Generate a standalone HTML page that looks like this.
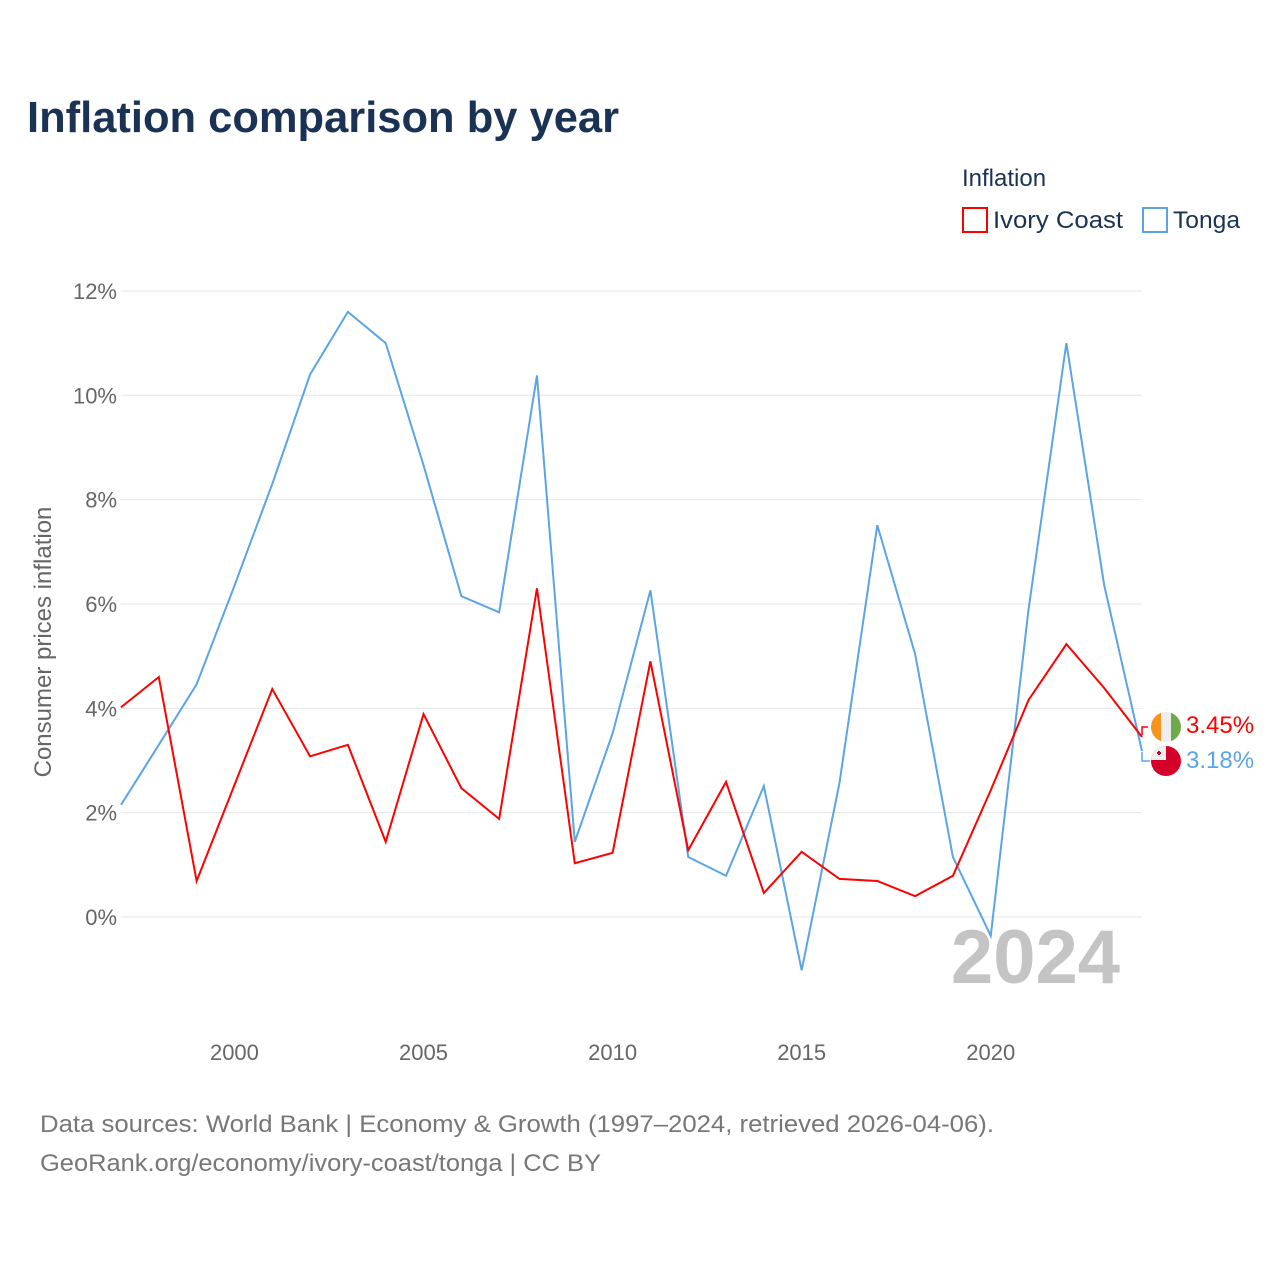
<!DOCTYPE html>
<html><head><meta charset="utf-8"><style>
body{margin:0;width:1280px;height:1280px;background:#fff;overflow:hidden;font-family:"Liberation Sans",sans-serif}
</style></head><body>
<svg width="1280" height="1280" xmlns="http://www.w3.org/2000/svg">
<text x="27" y="132" font-size="44" font-weight="bold" fill="#1a3355" textLength="592" lengthAdjust="spacingAndGlyphs">Inflation comparison by year</text>
<text x="962" y="186" font-size="24" fill="#1a3355">Inflation</text>
<g><rect x="963" y="208" width="24" height="24" fill="none" stroke="#ff0000" stroke-width="2"/><text x="993" y="228" font-size="24" fill="#1a3355" textLength="130" lengthAdjust="spacingAndGlyphs">Ivory Coast</text></g>
<g><rect x="1143" y="208" width="24" height="24" fill="none" stroke="#5ba4e6" stroke-width="2"/><text x="1173" y="228" font-size="24" fill="#1a3355" textLength="67" lengthAdjust="spacingAndGlyphs">Tonga</text></g>
<g id="grid"></g>
<g id="yt"></g>
<g id="xt"></g>
<text transform="translate(51,642) rotate(-90)" text-anchor="middle" font-size="24" fill="#666">Consumer prices inflation</text>
<text x="1120" y="983" text-anchor="end" font-size="76" font-weight="bold" fill="#c4c4c4">2024</text>
<g id="series"></g>
<polyline points="1142,735 1142,727 1148,727" fill="none" stroke="#ff0000" stroke-width="1.5"/>
<polyline points="1142,752 1142,761 1150,761" fill="none" stroke="#5ba4e6" stroke-width="1.5"/>
<g>
<clipPath id="c1"><circle cx="1166" cy="727" r="15"/></clipPath>
<g clip-path="url(#c1)"><rect x="1151" y="712" width="10" height="30" fill="#f7941d"/><rect x="1161" y="712" width="10" height="30" fill="#eee"/><rect x="1171" y="712" width="10" height="30" fill="#6ea94a"/></g></g>
<g>
<clipPath id="c2"><circle cx="1166" cy="761" r="15"/></clipPath>
<g clip-path="url(#c2)"><rect x="1151" y="746" width="30" height="30" fill="#d4002a"/><rect x="1151" y="746" width="15" height="14" fill="#eee"/><rect x="1157" y="752" width="4" height="2" fill="#d4002a"/><rect x="1158" y="751" width="2" height="4" fill="#d4002a"/></g></g>
<text x="1186" y="733" font-size="24" fill="#ff0000">3.45%</text>
<text x="1186" y="768" font-size="24" fill="#5ba4e6">3.18%</text>
<text x="40" y="1132" font-size="24" fill="#777" textLength="954" lengthAdjust="spacingAndGlyphs">Data sources: World Bank | Economy &amp; Growth (1997–2024, retrieved 2026-04-06).</text>
<text x="40" y="1171" font-size="24" fill="#777" textLength="561" lengthAdjust="spacingAndGlyphs">GeoRank.org/economy/ivory-coast/tonga | CC BY</text>
</svg>
<script>
const years=[1997,1998,1999,2000,2001,2002,2003,2004,2005,2006,2007,2008,2009,2010,2011,2012,2013,2014,2015,2016,2017,2018,2019,2020,2021,2022,2023,2024];
const ivoryCoast=[4.02,4.6,0.69,2.53,4.37,3.08,3.30,1.44,3.89,2.47,1.88,6.3,1.03,1.23,4.9,1.28,2.59,0.46,1.25,0.73,0.69,0.40,0.79,2.43,4.16,5.23,4.39,3.45];
const tonga=[2.15,3.3,4.46,6.35,8.3,10.4,11.6,11.0,8.66,6.15,5.84,10.38,1.44,3.52,6.26,1.15,0.79,2.51,-1.02,2.57,7.51,5.04,1.15,-0.36,5.9,11.0,6.36,3.18];
const yTicks=[0,2,4,6,8,10,12];
const xTicks=[2000,2005,2010,2015,2020];
const NS="http://www.w3.org/2000/svg";
const X=y=>121+(y-1997)*(1142-121)/27;
const Y=v=>917-v*52.17;
function mk(t,a,p){const e=document.createElementNS(NS,t);for(const k in a)e.setAttribute(k,a[k]);document.getElementById(p).appendChild(e);return e;}
yTicks.forEach(v=>{
 const l=mk('line',{x1:121,x2:1142,y1:Y(v),y2:Y(v),stroke:'#e6e6e6','stroke-width':1},'grid');
 
 
 const t=mk('text',{x:117,y:Y(v)+8,'text-anchor':'end','font-size':22,fill:'#666'},'yt');
 t.textContent=v+'%';
 
 
});
xTicks.forEach(v=>{
 const t=mk('text',{x:X(v),y:1060,'text-anchor':'middle','font-size':22,fill:'#666'},'xt');
 t.textContent=v;
 
 
});
function line(vals,col,name){
 const p=mk('polyline',{points:vals.map((v,i)=>X(years[i])+','+Y(v)).join(' '),fill:'none',stroke:col,'stroke-width':2},'series');
 
 
}
line(tonga,'#5ba4e6','line-tonga');
line(ivoryCoast,'#ff0000','line-ivory-coast');
</script>
</body></html>
